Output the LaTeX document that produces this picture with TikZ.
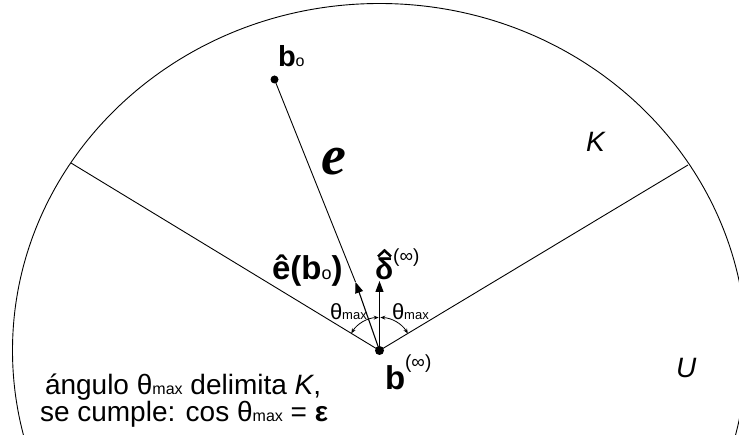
\documentclass[tikz,border=0pt]{standalone}
\usepackage{fontspec}
\setmainfont{Liberation Sans}
\newfontfamily\scriptefont{Liberation Serif}
\usetikzlibrary{arrows.meta,calc}
\newcommand\fsz[1]{\fontsize{#1}{#1}\selectfont}
\tikzset{
  thinline/.style={line width=0.9pt},
  bigarrow/.style={line width=1.1pt, -{Triangle[length=11pt,width=8pt]}},
  anglearc/.style={line width=0.8pt, {Stealth[length=5pt,width=4pt]}-{Stealth[length=5pt,width=4pt]}},
  lbl/.style={inner sep=0pt, outer sep=0pt, anchor=base west},
  dotmark/.style={fill=black},
  hatmark/.style={line width=2.5pt, line join=miter},
}
\begin{document}
\begin{tikzpicture}[x=1pt,y=-1pt]
\useasboundingbox (0,0) rectangle (739,435);
\clip (0,0) rectangle (739,435);
% points
\coordinate (binf) at (379.5,350.5);
\coordinate (bo) at (274.5,79.5);
\coordinate (L) at (71,163);
\coordinate (R) at (688,165);
\coordinate (etip) at (355.5,282);
\coordinate (dtip) at (379.5,281);
% boundary of U
\draw[thinline] (binf) ellipse [x radius=367pt, y radius=347pt];
% cone K
\draw[thinline] (binf) -- (L);
\draw[thinline] (binf) -- (R);
% path from b_o
\draw[thinline] (bo) -- (etip);
\draw[bigarrow] (binf) -- (etip);
\draw[bigarrow] (binf) -- (dtip);
% angle arcs
\draw[anglearc] ($(binf)+(211.3:33)$) arc[start angle=211.3, end angle=268.5, radius=33];
\draw[anglearc] ($(binf)+(271.5:33)$) arc[start angle=271.5, end angle=329, radius=33];
% dots
\fill[dotmark] (binf) circle[radius=4.5];
\fill[dotmark] (bo) circle[radius=4];
% labels
\node[lbl] (lbo) at (278,67) {\fsz{29}\bfseries b{\fsz{16}\mdseries o}};
\node[lbl] (lell) at (321,175) {\scriptefont\fsz{56}\bfseries\itshape e};
\node[lbl] (lK) at (586,152) {\fsz{28}\itshape K};
\node[lbl] (lU) at (676,378) {\fsz{28}\itshape U};
\node[lbl] (le) at (272,280) {\fsz{33}\bfseries ê(b{\fsz{18}\mdseries o})};
\node[lbl] (ldelta) at (375,280) {{\fsz{30}\bfseries δ}{\fsz{19}\raisebox{17pt}{(∞)}}};
\draw[hatmark] ($(ldelta.base west)+(3,-23.5)$) -- ($(ldelta.base west)+(9.5,-29.5)$) -- ($(ldelta.base west)+(16,-23.5)$);
\node[lbl] (lb) at (385,390) {{\fsz{33}\bfseries b}{\fsz{19}\raisebox{21pt}{(∞)}}};
\node[lbl] (lth1) at (330,320) {\fsz{22}θ{\fsz{13}max}};
\node[lbl] (lth2) at (392,320) {\fsz{22}θ{\fsz{13}max}};
\node[lbl] (line1) at (45,395) {\fsz{28}ángulo θ{\fsz{16}max} delimita \textit{K},};
\node[lbl] (line2) at (40,421) {\fsz{28}se cumple: cos θ{\fsz{16}max} = \textbf{ε}};
\end{tikzpicture}
\end{document}
